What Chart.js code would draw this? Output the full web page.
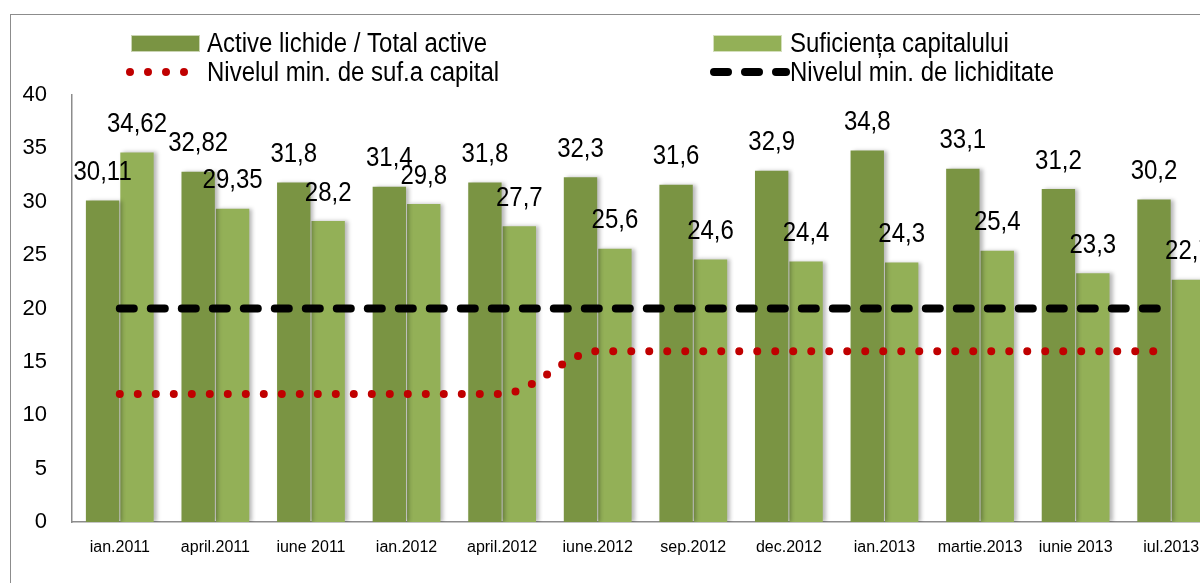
<!DOCTYPE html>
<html>
<head>
<meta charset="utf-8">
<script src="https://cdn.jsdelivr.net/npm/chart.js@4.4.1/dist/chart.umd.min.js"></script>
<style>
  html, body { margin:0; padding:0; background:#fff; overflow:hidden; }
  #wrap { position:relative; width:1200px; height:583px; overflow:hidden; }
  #frame { position:absolute; left:10px; top:14px; width:1300px; height:600px;
           border-left:1.5px solid #8c8c8c; border-top:1.5px solid #8c8c8c; }
  canvas { position:absolute; left:0; top:0; }
</style>
</head>
<body>
<div id="wrap">
  <div id="frame"></div>
  <canvas id="c" width="1240" height="583"></canvas>
</div>
<script>
// ---- data ----
const categories = ['ian.2011','april.2011','iune 2011','ian.2012','april.2012','iune.2012','sep.2012','dec.2012','ian.2013','martie.2013','iunie 2013','iul.2013'];
const activeLichide = [30.11, 32.82, 31.8, 31.4, 31.8, 32.3, 31.6, 32.9, 34.8, 33.1, 31.2, 30.2];
const suficientaCapital = [34.62, 29.35, 28.2, 29.8, 27.7, 25.6, 24.6, 24.4, 24.3, 25.4, 23.3, 22.7];
const minSufCapital = [12, 12, 12, 12, 12, 16, 16, 16, 16, 16, 16, 16];
const minLichiditate = [20, 20, 20, 20, 20, 20, 20, 20, 20, 20, 20, 20];
const yMin = 0, yMax = 40, yStep = 5;
const seriesNames = ['Active lichide / Total active', 'Suficiența capitalului', 'Nivelul min. de suf.a capital', 'Nivelul min. de lichiditate'];

const FONT = '"Liberation Sans", Arial, sans-serif';
const STRETCH = 1.15;

function tallText(ctx, text, x, y) {
  ctx.save();
  ctx.translate(x, y);
  ctx.scale(1, STRETCH);
  ctx.fillText(text, 0, 0);
  ctx.restore();
}

const barShadow = {
  id: 'barShadow',
  beforeDatasetDraw(chart, args) {
    const ds = chart.data.datasets[args.index];
    if (ds.type !== 'bar') return;
    const ctx = chart.ctx;
    ctx.save();
    ctx.shadowColor = 'rgba(0,0,0,0.28)';
    ctx.shadowBlur = 4;
    ctx.shadowOffsetX = 3;
    ctx.shadowOffsetY = 0;
  },
  afterDatasetDraw(chart, args) {
    const ds = chart.data.datasets[args.index];
    if (ds.type !== 'bar') return;
    chart.ctx.restore();
  }
};

const valueLabels = {
  id: 'valueLabels',
  afterDatasetsDraw(chart) {
    const ctx = chart.ctx;
    ctx.save();
    ctx.font = '24px ' + FONT;
    ctx.fillStyle = '#000';
    ctx.textAlign = 'center';
    ctx.textBaseline = 'middle';
    chart.data.datasets.forEach((ds, i) => {
      if (ds.type !== 'bar') return;
      const meta = chart.getDatasetMeta(i);
      meta.data.forEach((bar, j) => {
        tallText(ctx, String(ds.data[j]).replace('.', ','), bar.x, bar.y - 28);
      });
    });
    ctx.restore();
  }
};

const legendLayout = [
  { x: 131, y: 43, w: 69, tx: 207 },
  { x: 713, y: 43, w: 69, tx: 790 },
  { x: 130, y: 72, w: 58, tx: 207 },
  { x: 714, y: 72, w: 72, tx: 790 }
];

const customLegend = {
  id: 'customLegend',
  afterDraw(chart) {
    const ctx = chart.ctx;
    ctx.save();
    chart.data.datasets.forEach((ds, i) => {
      const L = legendLayout[i];
      if (ds.type === 'bar') {
        ctx.fillStyle = ds.backgroundColor;
        ctx.fillRect(L.x, L.y - 8, L.w, 17);
        ctx.strokeStyle = 'rgba(255,255,255,0.6)';
        ctx.lineWidth = 1;
        ctx.strokeRect(L.x + 0.5, L.y - 7.5, L.w - 1, 16);
      } else {
        ctx.beginPath();
        ctx.strokeStyle = ds.borderColor;
        ctx.lineWidth = ds.borderWidth;
        ctx.lineCap = ds.borderCapStyle;
        ctx.setLineDash(ds.borderDash);
        ctx.moveTo(L.x, L.y);
        ctx.lineTo(L.x + L.w, L.y);
        ctx.stroke();
        ctx.setLineDash([]);
      }
      ctx.fillStyle = '#000';
      ctx.font = '24px ' + FONT;
      ctx.textAlign = 'left';
      ctx.textBaseline = 'middle';
      tallText(ctx, ds.label, L.tx, L.y + 1);
    });
    ctx.restore();
  }
};

new Chart(document.getElementById('c'), {
  type: 'bar',
  data: {
    labels: categories,
    datasets: [
      { type: 'bar', label: seriesNames[0], data: activeLichide, backgroundColor: '#7A9443',
        categoryPercentage: 0.72, barPercentage: 0.97, order: 2 },
      { type: 'bar', label: seriesNames[1], data: suficientaCapital, backgroundColor: '#93B057',
        categoryPercentage: 0.72, barPercentage: 0.97, order: 2 },
      { type: 'line', label: seriesNames[2], data: minSufCapital, borderColor: '#C00000',
        borderWidth: 8, borderDash: [0, 18], borderCapStyle: 'round', pointRadius: 0,
        cubicInterpolationMode: 'monotone', fill: false, order: 0 },
      { type: 'line', label: seriesNames[3], data: minLichiditate, borderColor: '#000000',
        borderWidth: 8, borderDash: [14, 17], borderCapStyle: 'round', pointRadius: 0,
        fill: false, order: 0 }
    ]
  },
  options: {
    responsive: false,
    animation: false,
    layout: { padding: { top: 95, right: 21, left: 0, bottom: 0 } },
    plugins: { legend: { display: false }, tooltip: { enabled: false } },
    scales: {
      x: {
        grid: { display: false, drawTicks: false },
        border: { display: true, color: '#8c8c8c', width: 1.5 },
        ticks: { font: { family: FONT, size: 16 }, color: '#000', padding: 16,
                 autoSkip: false, maxRotation: 0, minRotation: 0 },
        afterFit(scale) { scale.height = 61; }
      },
      y: {
        min: yMin, max: yMax,
        grid: { display: false, drawTicks: false },
        border: { display: true, color: '#8c8c8c', width: 1.5 },
        ticks: { stepSize: yStep, font: { family: FONT, size: 22 }, color: '#000', padding: 25 },
        afterFit(scale) { scale.width = 72; }
      }
    }
  },
  plugins: [barShadow, valueLabels, customLegend]
});
</script>
</body>
</html>
